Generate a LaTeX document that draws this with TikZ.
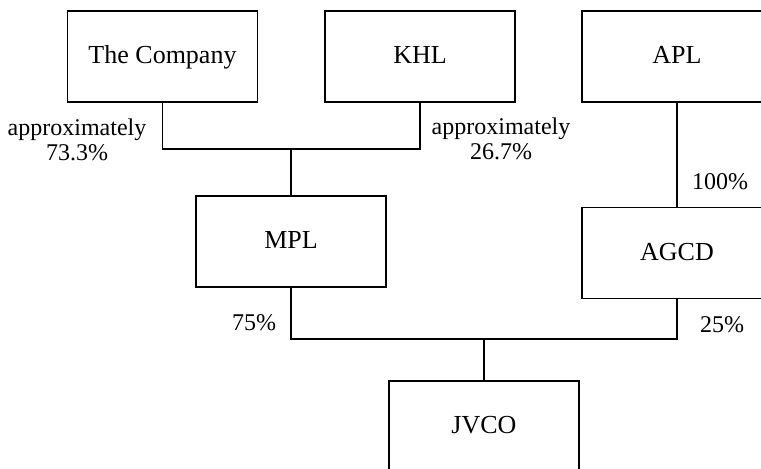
\documentclass[tikz,border=0pt]{standalone}
\usepackage{fontspec}
\setmainfont{Liberation Serif}
\begin{document}
\begin{tikzpicture}[
    x = 0.5pt, y = -0.5pt,
    entity/.style = {
        rectangle,
        draw,
        line width = 0.6pt,
        minimum width = 95pt,
        minimum height = 45.5pt,
        inner sep = 0pt,
        text height = 9pt,
        text depth = 2pt,
        font = \fontsize{13}{15}\selectfont
    },
    link/.style = {line width = 0.6pt},
    share/.style = {font = \fontsize{12}{12.5}\selectfont, align = center}
]
\clip (0, 0) rectangle (761, 468);

% Shareholders
\node[entity] (company) at (162.5, 56.5) {The Company};
\node[entity] (khl) at (420, 56.5) {KHL};
\node[entity] (apl) at (677, 56.5) {APL};

% Intermediate holdings
\node[entity] (mpl) at (291, 241.5) {MPL};
\node[entity] (agcd) at (677, 253) {AGCD};

% Joint venture
\node[entity] (jvco) at (484, 426.5) {JVCO};

% Junctions
\coordinate (topjoin) at (291, 149);
\coordinate (botjoin) at (484, 339);

% Ownership lines
\draw[link] (company.south) |- (topjoin) -| (khl.south);
\draw[link] (topjoin) -- (mpl.north);
\draw[link] (apl) -- (agcd);
\draw[link] (mpl.south) |- (botjoin) -| (agcd.south);
\draw[link] (botjoin) -- (jvco.north);

% Percentages
\node[share] (pcompany) at (77, 140) {approximately\\73.3\%};
\node[share] (pkhl) at (501, 139) {approximately\\26.7\%};
\node[share] (papl) at (720, 182) {100\%};
\node[share] (pmpl) at (254, 323) {75\%};
\node[share] (pagcd) at (722, 325) {25\%};

\end{tikzpicture}
\end{document}
